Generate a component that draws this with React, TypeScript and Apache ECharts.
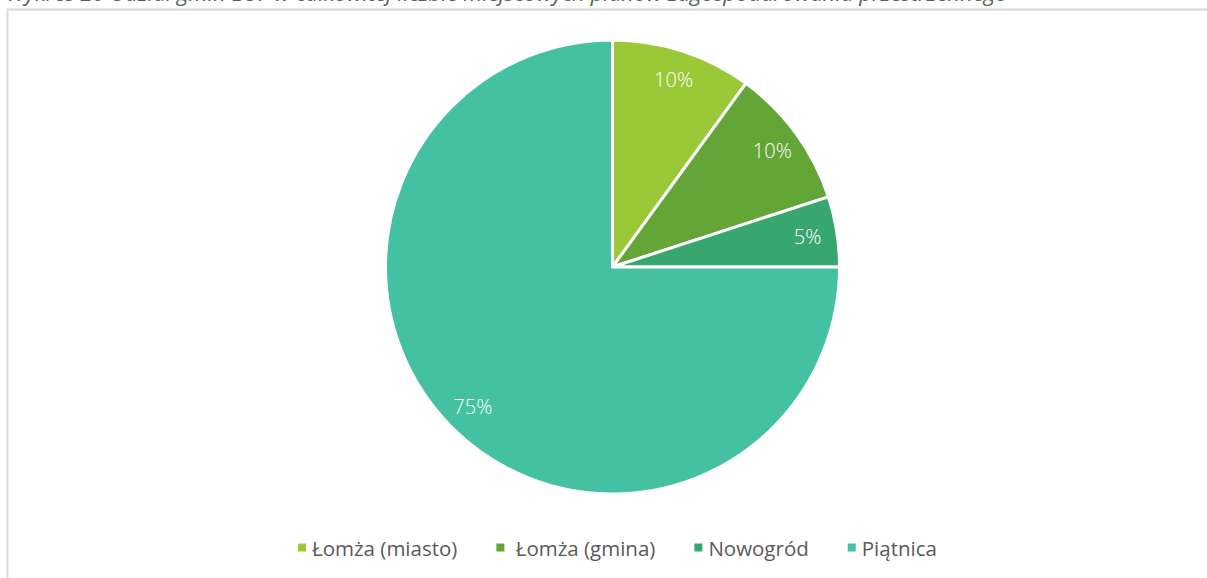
import React, { useEffect, useRef } from "react";
import * as echarts from "echarts";

const categories = ["Łomża (miasto)", " Łomża (gmina)", "Nowogród", "Piątnica"];
const values = [10, 10, 5, 75];
const colors = ["#9BC837", "#63A537", "#37A76F", "#44C1A3"];
const titleText =
  "Wykres 20 Udział gmin ŁOF w całkowitej liczbie miejscowych planów zagospodarowania przestrzennego";

export default function App() {
  const ref = useRef<HTMLDivElement>(null);
  useEffect(() => {
    document.body.style.margin = "0";
    const chart = echarts.init(ref.current!, null, { renderer: "svg" });
    const data = categories.map((name, i) => ({
      name,
      value: values[i],
      itemStyle: { color: colors[i] },
    }));
    chart.setOption({
      animation: false,
      backgroundColor: "#ffffff",
      graphic: [
        {
          type: "rect",
          shape: { x: 7.5, y: 9.5, width: 1210, height: 600 },
          style: { fill: "none", stroke: "#d9d9d9", lineWidth: 2 },
          silent: true,
        },
        {
          type: "text",
          x: 6,
          y: 3,
          style: {
            text: titleText,
            font: "italic 22px 'Open Sans', sans-serif",
            fill: "#4f6555",
            textVerticalAlign: "bottom",
          },
        },
      ],
      legend: {
        data: categories,
        left: 291,
        top: 532,
        icon: "rect",
        itemWidth: 10,
        itemHeight: 10,
        itemGap: 37,
        textStyle: { fontFamily: "'Open Sans', sans-serif", fontSize: 20.5, color: "#595959" },
        selectedMode: false,
      },
      series: [
        {
          type: "pie",
          center: [612.5, 267],
          radius: [0, 227],
          startAngle: 90,
          clockwise: true,
          data,
          label: { show: false },
          labelLine: { show: false },
          itemStyle: { borderColor: "#ffffff", borderWidth: 3 },
          emphasis: { disabled: true },
        },
        {
          type: "pie",
          center: [612.5, 267],
          radius: [162, 227],
          startAngle: 90,
          clockwise: true,
          data: categories.map((name, i) => ({ name, value: values[i] })),
          itemStyle: { color: "rgba(0,0,0,0)" },
          label: {
            show: true,
            position: "inside",
            formatter: (p: any) => p.value + "%",
            color: "#ffffff",
            fontSize: 20,
            fontFamily: "'Open Sans', sans-serif",
            fontWeight: 300,
          },
          labelLine: { show: false },
          silent: true,
          emphasis: { disabled: true },
        },
      ],
    });
    return () => chart.dispose();
  }, []);
  return <div ref={ref} style={{ width: 1207, height: 578 }} />;
}
